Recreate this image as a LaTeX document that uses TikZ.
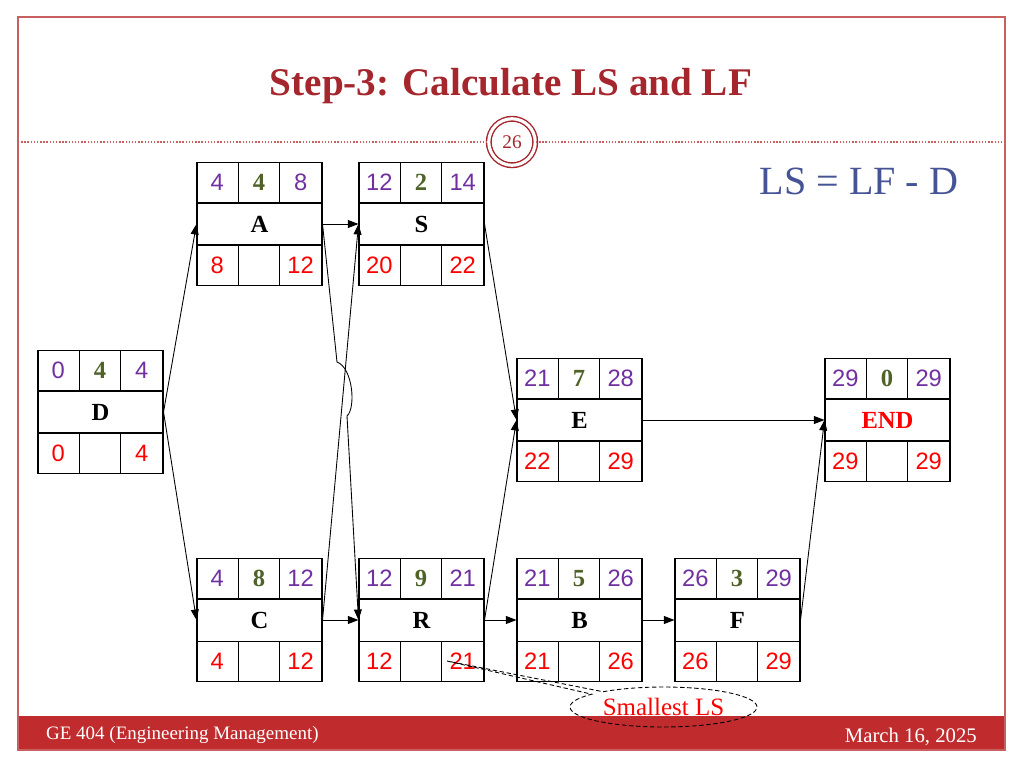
\documentclass[tikz,border=0pt]{standalone}
\usepackage{fontspec}
\setmainfont{Liberation Serif}
\newfontfamily\numfont{Liberation Sans}
\usetikzlibrary{arrows.meta,shapes.callouts}

\definecolor{esfcol}{RGB}{112,48,160}
\definecolor{durcol}{RGB}{79,98,40}
\definecolor{lsfcol}{RGB}{255,0,0}
\definecolor{bandred}{RGB}{192,44,46}
\definecolor{titlered}{RGB}{165,38,44}
\definecolor{framered}{RGB}{200,96,96}
\definecolor{eqblue}{RGB}{70,84,150}

\tikzset{
  actbox/.style={draw, line width=0.6pt, minimum width=2.5cm, minimum height=2.46cm, inner sep=0pt},
  topnum/.style={text=esfcol, font=\numfont\fontsize{13.5}{15}\selectfont},
  durnum/.style={text=durcol, font=\bfseries\fontsize{14}{15}\selectfont},
  botnum/.style={text=lsfcol, font=\numfont\fontsize{13.5}{15}\selectfont},
  actname/.style={font=\bfseries\fontsize{14}{15}\selectfont},
  link/.style={-{Triangle[length=6pt,width=4.5pt]}, line width=0.5pt},
}

% #1 name, #2 centre, #3 label, #4 ES, #5 D, #6 EF, #7 LS, #8 LF, #9 label colour
\newcommand{\activity}[9]{%
  \node[actbox] (#1) at (#2) {};
  \draw[line width=0.6pt] ([shift={(0,41)}]#1.north west) -- ([shift={(0,41)}]#1.north east);
  \draw[line width=0.6pt] ([shift={(0,-41)}]#1.south west) -- ([shift={(0,-41)}]#1.south east);
  \draw[line width=0.6pt] ([shift={(41.7,0)}]#1.north west) -- ++(0,41);
  \draw[line width=0.6pt] ([shift={(83.3,0)}]#1.north west) -- ++(0,41);
  \draw[line width=0.6pt] ([shift={(41.7,0)}]#1.south west) -- ++(0,-41);
  \draw[line width=0.6pt] ([shift={(83.3,0)}]#1.south west) -- ++(0,-41);
  \node[topnum] (#1-es) at ([shift={(20.8,20.5)}]#1.north west) {#4};
  \node[durnum] (#1-d) at ([shift={(62.5,20.5)}]#1.north west) {#5};
  \node[topnum] (#1-ef) at ([shift={(104.2,20.5)}]#1.north west) {#6};
  \node[actname, text=#9] (#1-name) at (#1) {#3};
  \node[botnum] (#1-ls) at ([shift={(20.8,-20.5)}]#1.south west) {#7};
  \node[botnum] (#1-lf) at ([shift={(104.2,-20.5)}]#1.south west) {#8};
}

\begin{document}
\begin{tikzpicture}[x=0.02cm, y=-0.02cm]
  \useasboundingbox (0,0) rectangle (1024,768);

  % slide frame
  \fill[bandred] (18,716) rectangle (1005,750);
  \draw[framered, line width=0.8pt] (18,17) rectangle (1005,750);
  \node[text=titlered, font=\bfseries\fontsize{22.3}{25}\selectfont] (title) at (511,86) {Step-3: Calculate LS and LF};
  \node[circle, draw=titlered, double=white, double distance=1.8pt, line width=0.8pt, minimum size=0.93cm, inner sep=0pt,
        text=titlered, font=\fontsize{11}{12}\selectfont] (pagenum) at (512,142) {26};
  \draw[framered, densely dotted, line width=0.8pt] (18,142) -- (pagenum.west);
  \draw[framered, densely dotted, line width=0.8pt] (pagenum.east) -- (1005,142);
  \node[anchor=west, text=white, font=\fontsize{10.8}{12}\selectfont] (course) at (40,735) {GE 404 (Engineering Management)};
  \node[anchor=east, text=white, font=\fontsize{11.8}{13}\selectfont] (date) at (983,737) {March 16, 2025};

  \node[text=eqblue, font=\fontsize{22.8}{26}\selectfont] (formula) at (859,181) {LS = LF - D};

  % network
  \activity{A}{259.5,224}{A}{4}{4}{8}{8}{12}{black}
  \activity{S}{421.5,224}{S}{12}{2}{14}{20}{22}{black}
  \activity{D}{100.5,412}{D}{0}{4}{4}{0}{4}{black}
  \activity{E}{579.5,420}{E}{21}{7}{28}{22}{29}{black}
  \activity{END}{887.5,420}{END}{29}{0}{29}{29}{29}{lsfcol}
  \activity{C}{259.5,620}{C}{4}{8}{12}{4}{12}{black}
  \activity{R}{421.5,620}{R}{12}{9}{21}{12}{21}{black}
  \activity{B}{579.5,620}{B}{21}{5}{26}{21}{26}{black}
  \activity{F}{737.5,620}{F}{26}{3}{29}{26}{29}{black}

  \draw[link] (D.east) -- (A.west);
  \draw[link] (D.east) -- (C.west);
  \draw[link] (A.east) -- (S.west);
  \draw[link] (C.east) -- (S.west);
  \coordinate (hopin) at (337,362);
  \coordinate (hopout) at (347,416);
  \draw[link] (A.east) -- (hopin) .. controls (353,368) and (356,408) .. (hopout) -- (R.west);
  \draw[link] (C.east) -- (R.west);
  \draw[link] (S.east) -- (E.west);
  \draw[link] (R.east) -- (E.west);
  \draw[link] (R.east) -- (B.west);
  \draw[link] (B.east) -- (F.west);
  \draw[link] (E.east) -- (END.west);
  \draw[link] (F.east) -- (END.west);

  \coordinate (lstip) at (447,661);
  \node[ellipse callout, draw, dash pattern=on 2.5pt off 1.5pt, line width=0.5pt, callout absolute pointer={(lstip)},
        callout pointer arc=10, minimum width=3.74cm, minimum height=0.8cm, inner sep=0pt, text=lsfcol,
        font=\fontsize{14.2}{16}\selectfont] (smallest) at (663.5,707) {Smallest LS};
\end{tikzpicture}
\end{document}
